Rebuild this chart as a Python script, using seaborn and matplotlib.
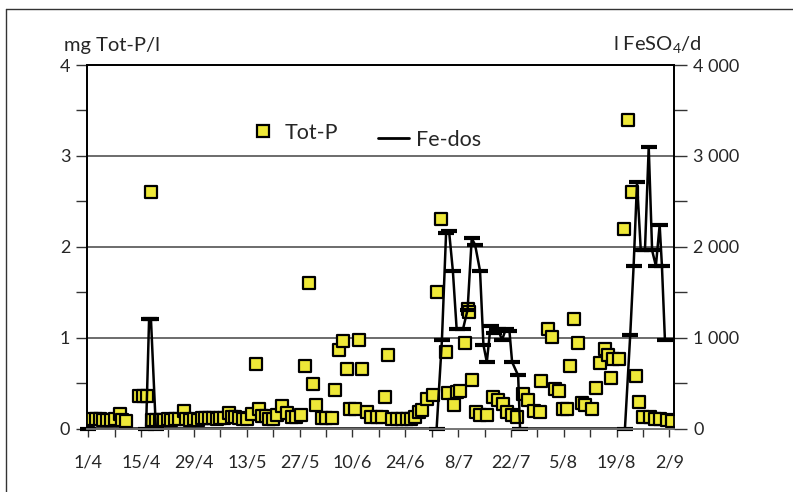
import matplotlib
matplotlib.use("Agg")
import matplotlib.pyplot as plt
import seaborn as sns
import pandas as pd
from matplotlib.lines import Line2D
from matplotlib.ticker import MultipleLocator, FuncFormatter

# ---------------- data (day offsets from 1 April) ----------------
totp_day = [0, 1, 2, 3, 4, 5, 6, 7, 8.5, 9, 10,
            13.5, 14.5, 15.5, 16.5,
            17, 18, 19, 20, 21, 22, 23, 24, 25.4, 26, 27, 28, 29, 30, 31, 32, 33,
            34, 35, 36, 37.3, 38, 39, 40, 41, 42, 43.4, 44.5, 45.2, 46, 47, 48, 49, 50,
            51.3, 52.7, 54, 55, 56.4, 57.5, 58.5, 59.6, 60.4, 62, 63, 64.5,
            65.4, 66.5, 67.6, 68.5, 69.4, 70.7, 71.6, 72.6, 73.8, 75, 76.4, 77.8,
            78.6, 79.5, 80.4, 81.8, 83, 84.4, 85.5, 86.6, 87.5, 88.4, 89.7, 91.4,
            92.3, 93.5, 94.7, 95.4, 96.8, 97.6, 98.5, 99.7, 100.5, 101, 101.6,
            102.8, 103.8, 105.6, 107.3, 108.5, 109.9, 111, 112.3, 113.5, 115.3,
            116.6, 118, 119.7, 120, 121.7, 122.8, 123.7, 124.8, 125.9, 126.8,
            127.7, 128.7, 129.7, 130.8, 131.7, 133.5, 134.5, 135.6, 136.9, 137.6,
            138.4, 139.1, 140.5, 142, 143, 144, 145, 146, 147, 148.9, 150.2,
            151.5, 153.3, 154.6]
totp_val = [0.09, 0.10, 0.11, 0.10, 0.09, 0.09, 0.09, 0.10, 0.16, 0.09, 0.08,
            0.36, 0.36, 0.36, 2.60,
            0.09, 0.09, 0.09, 0.09, 0.10, 0.09, 0.10, 0.10, 0.19, 0.10, 0.09, 0.10, 0.09, 0.12, 0.12, 0.12, 0.12,
            0.10, 0.12, 0.12, 0.17, 0.13, 0.13, 0.12, 0.10, 0.10, 0.16, 0.71, 0.21, 0.14, 0.14, 0.10, 0.10, 0.15,
            0.25, 0.17, 0.13, 0.13, 0.15, 0.69, 1.60, 0.49, 0.26, 0.12, 0.12, 0.12,
            0.42, 0.86, 0.96, 0.65, 0.21, 0.21, 0.975, 0.65, 0.18, 0.13, 0.13, 0.13,
            0.35, 0.81, 0.10, 0.10, 0.10, 0.10, 0.10, 0.13, 0.18, 0.20, 0.33, 0.37,
            1.50, 2.31, 0.84, 0.39, 0.26, 0.40, 0.41, 0.94, 1.31, 1.28, 0.53,
            0.18, 0.15, 0.15, 0.35, 0.31, 0.27, 0.18, 0.15, 0.13, 0.38,
            0.31, 0.19, 0.18, 0.52, 1.10, 1.01, 0.43, 0.41, 0.21, 0.21,
            0.69, 1.20, 0.94, 0.28, 0.26, 0.21, 0.45, 0.72, 0.88, 0.81,
            0.56, 0.77, 0.77, 2.20, 3.40, 2.60, 0.58, 0.29, 0.13, 0.13, 0.10,
            0.11, 0.09, 0.08]

fe_day = [0, 15.3, 16.1, 16.6, 17.9, 92.3, 93.7, 94.8, 95.6, 96.6, 97.6, 99.3,
          100.5, 101.6, 102.5, 103.8, 104.7, 105.6, 106.6, 107.6, 108.6, 109.6,
          110.6, 111.6, 112.3, 113.9, 114.4, 142.2, 143.6, 144.5, 145.4, 146.4,
          147.5, 148.5, 149.4, 150.4, 151.4, 152.0, 152.8]
fe_val = [0, 0, 1200, 1200, 0, 0, 970, 2150, 2170, 1735, 1096, 1096,
          1307, 2093, 2020, 1735, 920, 731, 1132, 1050, 1100, 970,
          1090, 1070, 731, 584, 0, 0, 1030, 1790, 2710, 1960,
          1960, 3100, 1960, 1790, 2240, 1790, 970]

tick_days = [0, 14, 28, 42, 56, 70, 84, 98, 112, 126, 140, 154]
tick_labels = ["1/4", "15/4", "29/4", "13/5", "27/5", "10/6", "24/6",
               "8/7", "22/7", "5/8", "19/8", "2/9"]

totp = pd.DataFrame({"day": totp_day, "val": totp_val})
fe = pd.DataFrame({"day": fe_day, "val": fe_val})

# ---------------- style ----------------
sns.set_theme(style="white")
plt.rcParams["font.family"] = ["Lato", "DejaVu Sans"]
plt.rcParams["mathtext.fontset"] = "custom"
plt.rcParams["mathtext.rm"] = "Lato"
FS = 13
yellow = "#EEE838"

fig = plt.figure(figsize=(7.93, 4.92), dpi=100)
ax = fig.add_axes([87 / 793, 1 - 428.5 / 492, (674 - 87) / 793, (428.5 - 65) / 492])
ax2 = ax.twinx()

sns.scatterplot(data=totp, x="day", y="val", ax=ax, marker="s", s=66,
                color=yellow, edgecolor="black", linewidth=1.6, zorder=3,
                legend=False)
sns.lineplot(data=fe, x="day", y="val", ax=ax2, color="black", lw=1.8,
             marker="_", markersize=11, markeredgewidth=3,
             markeredgecolor="black", markerfacecolor="black",
             estimator=None, legend=False)
for ln in ax2.lines:
    ln.set_clip_on(False)

ax.set_xlim(-0.35, 155.2)
ax.set_ylim(0, 4)
ax2.set_ylim(0, 4000)

ax.set_xticks(tick_days)
ax.set_xticklabels(tick_labels)
ax.xaxis.set_minor_locator(MultipleLocator(7))
ax.yaxis.set_major_locator(MultipleLocator(1))
ax.yaxis.set_minor_locator(MultipleLocator(0.5))
ax2.yaxis.set_major_locator(MultipleLocator(1000))
ax2.yaxis.set_minor_locator(MultipleLocator(500))
ax2.yaxis.set_major_formatter(FuncFormatter(
    lambda v, p: f"{int(v):,}".replace(",", " ")))

for a in (ax, ax2):
    a.set_xlabel("")
    a.set_ylabel("")
    for s in a.spines.values():
        s.set_color("black")
        s.set_linewidth(1.3)
    a.spines["bottom"].set_color("#777777")

ax.tick_params(axis="both", which="both", direction="out", length=8,
               width=1, color="#333333", labelsize=FS, pad=4,
               bottom=True, left=True)
ax.tick_params(axis="x", which="both", length=6, pad=13)
ax2.tick_params(axis="y", which="both", direction="out", length=9,
                width=1, color="#333333", labelsize=FS, right=True, pad=5)

for yv in (1, 2, 3):
    ax.axhline(yv, color="#444444", lw=1.1, zorder=1)

# axis titles
fig.text(64 / 793, 1 - 45 / 492, "mg Tot-P/l", fontsize=14.5, va="center", ha="left")
fig.text(702 / 793, 1 - 45 / 492, r"l FeSO$_\mathrm{4}$/d", fontsize=14.5,
         va="center", ha="right")

# legend (two entries, the first sits a little higher as in the original)
LFS = 15.5
h_tp = Line2D([], [], marker="s", ls="", markerfacecolor=yellow,
              markeredgecolor="black", markersize=8.5, markeredgewidth=1.6)
h_fe = Line2D([], [], color="black", lw=2)
leg1 = ax2.legend([h_tp], ["Tot-P"], frameon=False, fontsize=LFS,
                  loc="center left", bbox_to_anchor=(247 / 793, 1 - 133 / 492),
                  bbox_transform=fig.transFigure, handlelength=1.45,
                  handletextpad=0.3, borderpad=0, borderaxespad=0)
ax2.add_artist(leg1)
ax2.legend([h_fe], ["Fe-dos"], frameon=False, fontsize=LFS,
           loc="center left", bbox_to_anchor=(378 / 793, 1 - 140 / 492),
           bbox_transform=fig.transFigure, handlelength=1.45,
           handletextpad=0.3, borderpad=0, borderaxespad=0)

# outer frame (left and top edges)
fig.add_artist(Line2D([6 / 793, 6 / 793], [0, 1 - 9 / 492],
                      transform=fig.transFigure, color="#333333", lw=1))
fig.add_artist(Line2D([6 / 793, 1], [1 - 9 / 492, 1 - 9 / 492],
                      transform=fig.transFigure, color="#333333", lw=1))

fig.savefig("out.png", dpi=100)
